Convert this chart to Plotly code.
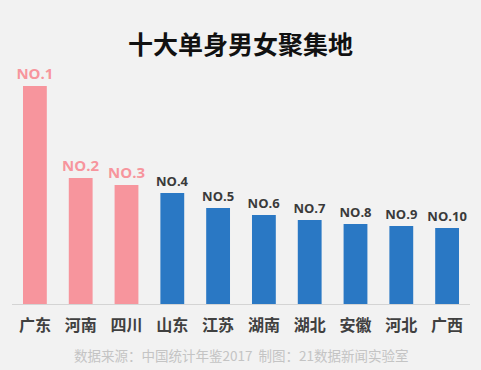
import plotly.graph_objects as go

provinces = ["广东", "河南", "四川", "山东", "江苏", "湖南", "湖北", "安徽", "河北", "广西"]
values = [218, 126, 119, 111, 96, 89, 84, 80, 78, 76]
rank_labels = ["NO.1", "NO.2", "NO.3", "NO.4", "NO.5", "NO.6", "NO.7", "NO.8", "NO.9", "NO.10"]

PINK = "#f7959d"
BLUE = "#2a78c4"
bar_colors = [PINK if i < 3 else BLUE for i in range(len(values))]
label_colors = [PINK if i < 3 else "#3a3a3a" for i in range(len(values))]
label_sizes = [15 if i < 3 else 13 for i in range(len(values))]

FONT = "Noto Sans CJK SC"

fig = go.Figure(go.Bar(
    x=provinces, y=values,
    marker=dict(color=bar_colors, line=dict(width=0)),
    text=rank_labels, textposition="outside", constraintext="none",
    textfont=dict(color=label_colors, size=label_sizes, family="Open Sans", weight="bold"),
    cliponaxis=False,
))

fig.update_layout(
    width=481, height=370,
    margin=dict(l=12, r=11, t=60, b=66),
    paper_bgcolor="#f2f2f2", plot_bgcolor="#f2f2f2",
    bargap=0.48,
    showlegend=False,
    title=dict(text="<b>十大单身男女聚集地</b>", x=0.5, xanchor="center", y=0.878, yanchor="middle",
               font=dict(family=FONT, size=25, color="#111111")),
    xaxis=dict(showline=True, linecolor="#d4d4d4", linewidth=1, showgrid=False, ticks="",
               tickfont=dict(family=FONT, size=16, color="#404040", weight="bold"),
               ticklabelstandoff=7),
    yaxis=dict(range=[0, 244], visible=False, showgrid=False, zeroline=False),
    annotations=[dict(text="数据来源：中国统计年鉴2017  制图：21数据新闻实验室",
                      x=0.5, xref="paper", y=-(355 - 304) / 244, yref="paper", yanchor="middle",
                      showarrow=False, font=dict(family=FONT, size=13.5, color="#c4c4c4"))],
)

fig.write_html("out.html", post_script="document.body.style.margin='0';",
               config={"displayModeBar": False})
